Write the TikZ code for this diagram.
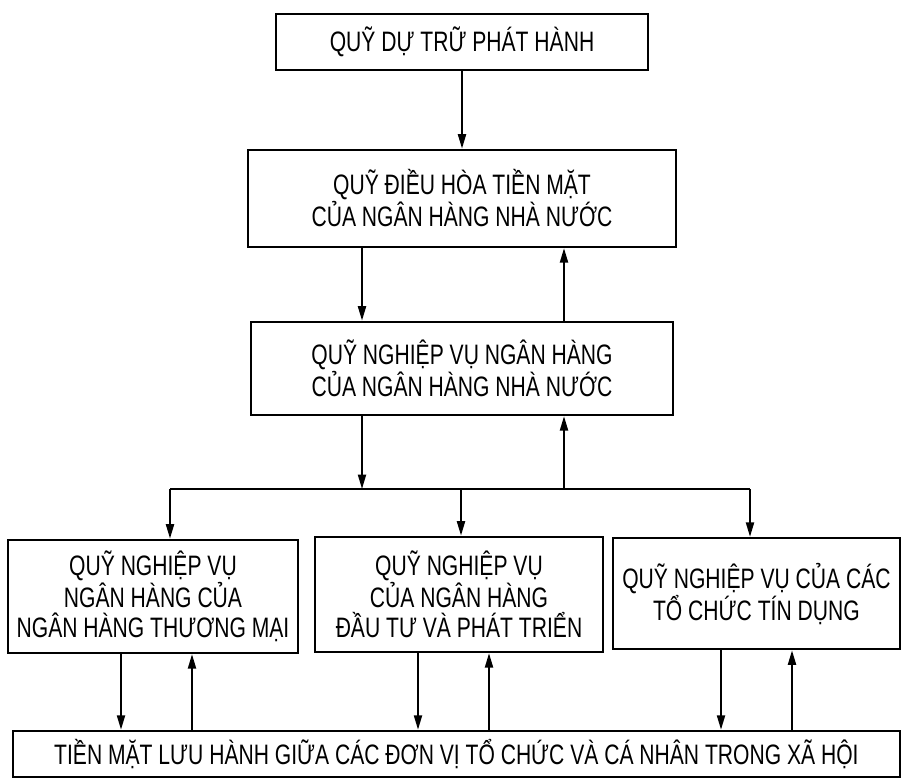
\documentclass[tikz,border=0pt]{standalone}
\usepackage{fontspec}
\setmainfont[FakeStretch=0.75]{Liberation Sans}
\usetikzlibrary{arrows.meta}
\tikzset{
 quybox/.style={draw,line width=1.8pt,align=center,inner sep=0pt,
   font=\fontsize{20}{21.5}\selectfont},
 flow/.style={-{Triangle[length=3.6mm,width=2mm]},line width=1.4pt},
 rail/.style={line width=1.4pt}
}
\begin{document}
\begin{tikzpicture}
\useasboundingbox (0mm,0mm) rectangle (225.5mm,-195.75mm);
% cac quy o tren
\node[quybox,minimum width=93mm,minimum height=14mm] (ntitle) at (115.5mm,-10.5mm)
 {QUỸ DỰ TRỮ PHÁT HÀNH};
\node[quybox,minimum width=107mm,minimum height=24.25mm] (ndieuhoa) at (115.5mm,-49.6mm)
 {QUỸ ĐIỀU HÒA TIỀN MẶT\\CỦA NGÂN HÀNG NHÀ NƯỚC};
\node[quybox,minimum width=105.5mm,minimum height=23.25mm] (nnghiepvu) at (115.5mm,-92.1mm)
 {QUỸ NGHIỆP VỤ NGÂN HÀNG\\CỦA NGÂN HÀNG NHÀ NƯỚC};
% ba quy nghiep vu
\node[quybox,minimum width=72.5mm,minimum height=28.25mm] (ntm) at (38.25mm,-149.1mm)
 {QUỸ NGHIỆP VỤ\\NGÂN HÀNG CỦA\\NGÂN HÀNG THƯƠNG MẠI};
\node[quybox,minimum width=72mm,minimum height=28.75mm] (ndt) at (114.75mm,-148.6mm)
 {QUỸ NGHIỆP VỤ\\CỦA NGÂN HÀNG\\ĐẦU TƯ VÀ PHÁT TRIỂN};
\node[quybox,minimum width=71.75mm,minimum height=27.75mm] (ntd) at (189.1mm,-148.4mm)
 {QUỸ NGHIỆP VỤ CỦA CÁC\\TỔ CHỨC TÍN DỤNG};
% tien mat luu hanh
\node[quybox,minimum width=221.75mm,minimum height=11.5mm] (nxh) at (114.1mm,-188.5mm)
 {TIỀN MẶT LƯU HÀNH GIỮA CÁC ĐƠN VỊ TỔ CHỨC VÀ CÁ NHÂN TRONG XÃ HỘI};
% mui ten giua cac quy tren
\draw[flow] (ntitle) -- (ndieuhoa);
\draw[flow] ([xshift=-25mm]ndieuhoa.south) -- ([xshift=-25mm]nnghiepvu.north);
\draw[flow] ([xshift=25.5mm]nnghiepvu.north) -- ([xshift=25.5mm]ndieuhoa.south);
% nhanh xuong ba quy
\coordinate (bl) at (42.5mm,-122.25mm);
\coordinate (bm) at (115.25mm,-122.25mm);
\coordinate (br) at (187.5mm,-122.25mm);
\draw[rail] (bl) -- (br);
\coordinate (nd) at ([xshift=-25mm]nnghiepvu.south);
\coordinate (nu) at ([xshift=25.5mm]nnghiepvu.south);
\draw[flow] (nd) -- (nd |- bl);
\draw[flow] (nu |- bl) -- (nu);
\foreach \c/\n in {bl/ntm,bm/ndt,br/ntd}
 \draw[flow] (\c) -- (\c |- \n.north);
% ra vao tien mat luu hanh
\foreach \n/\a/\b in {ntm/-8/9.75,ndt/-10.25/7.5,ntd/-8.85/8.9}{
 \coordinate (d) at ([xshift=\a mm]\n.south);
 \coordinate (u) at ([xshift=\b mm]\n.south);
 \draw[flow] (d) -- (d |- nxh.north);
 \draw[flow] (u |- nxh.north) -- (u);
}
\end{tikzpicture}
\end{document}
